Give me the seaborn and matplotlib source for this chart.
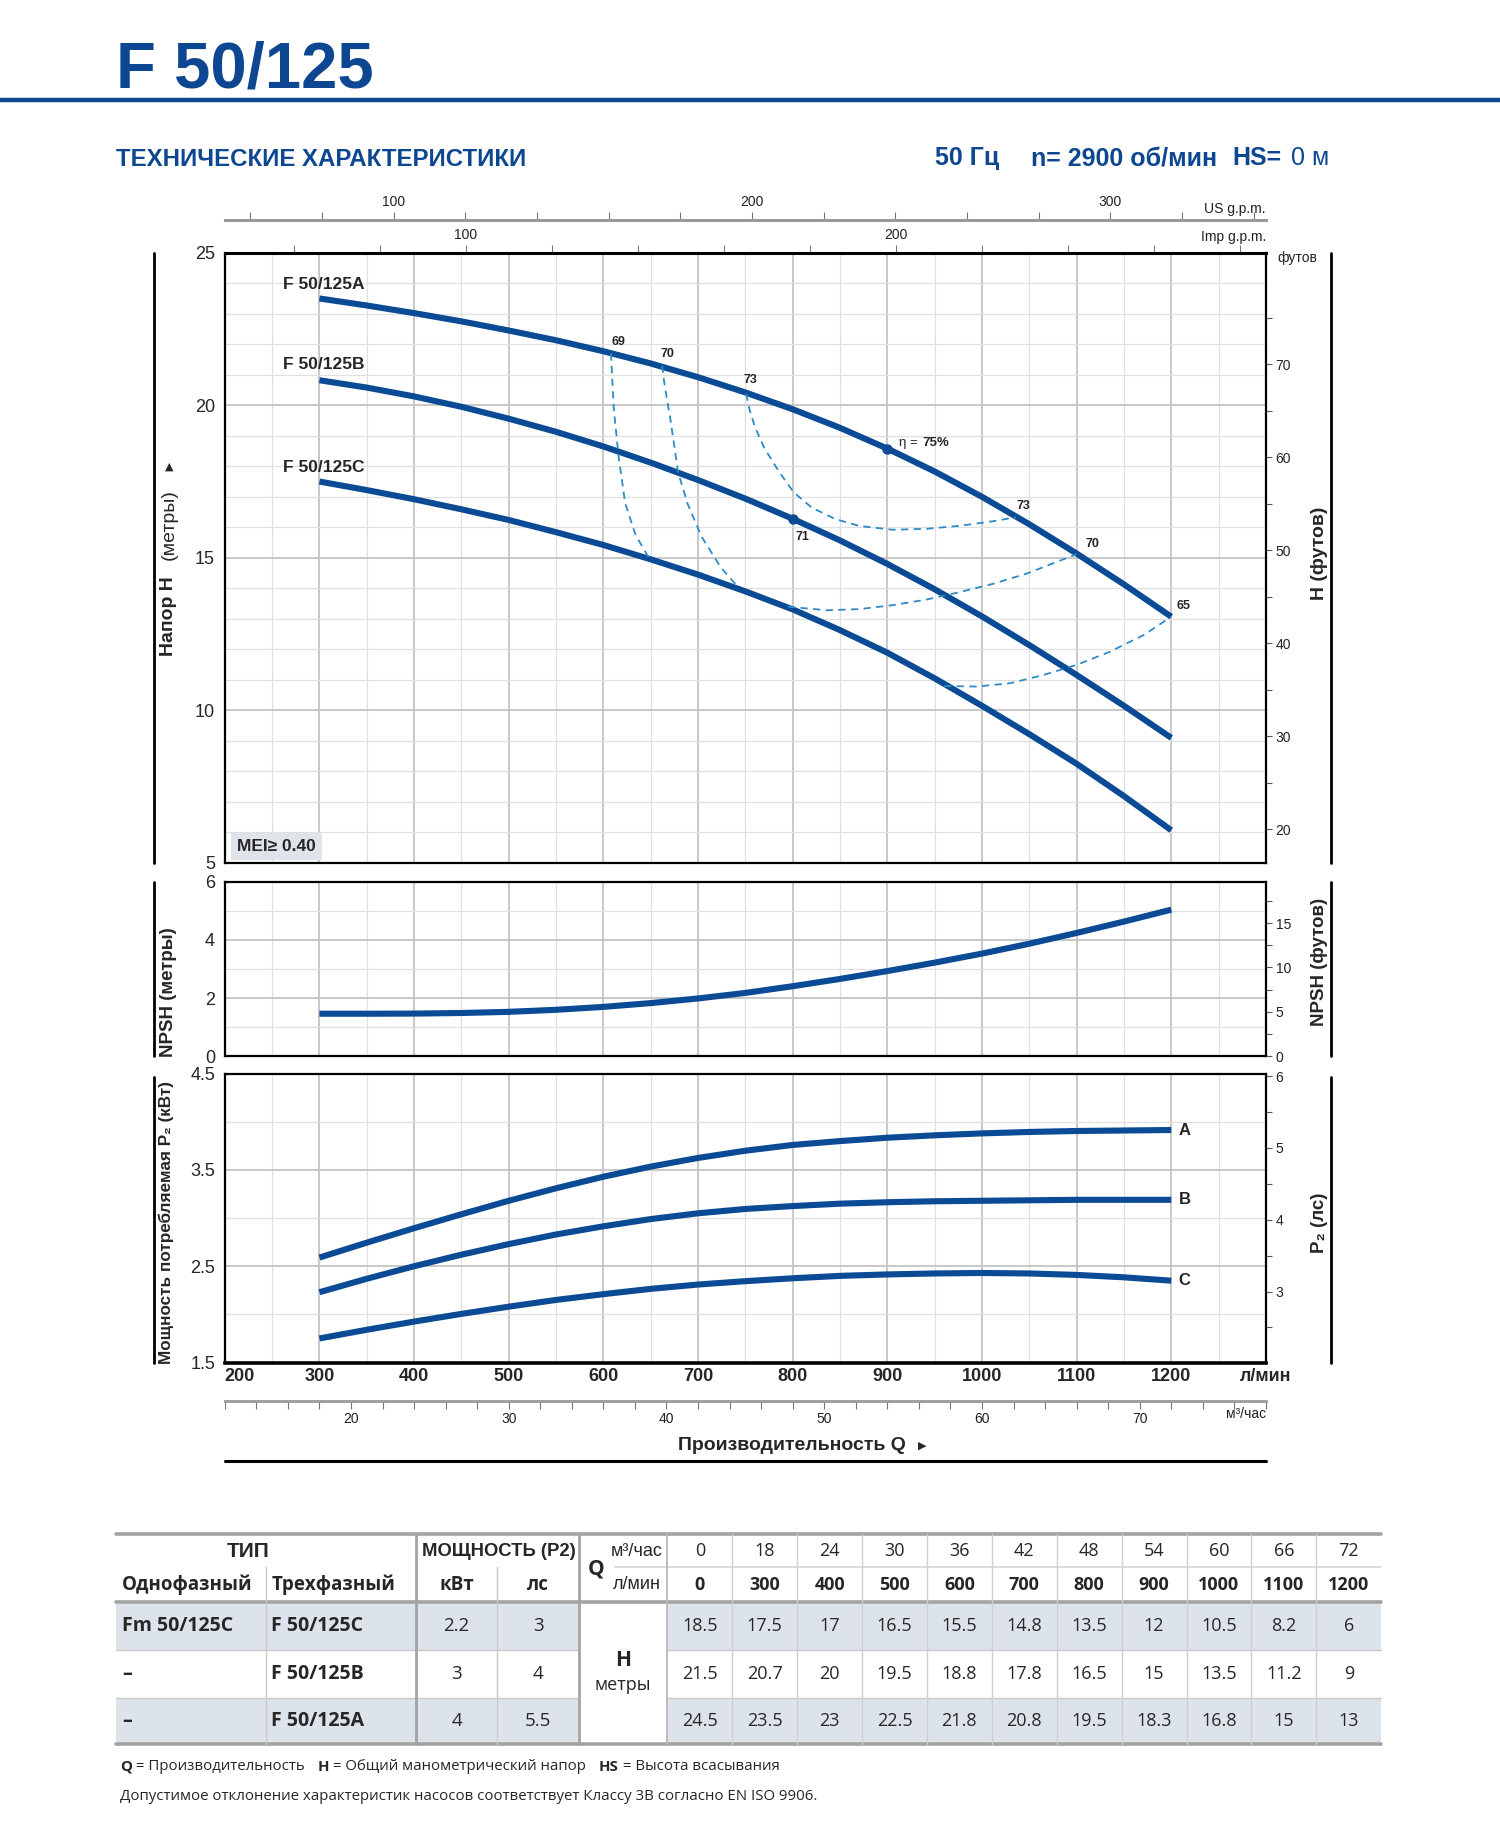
import numpy as np
import pandas as pd
import seaborn as sns
import matplotlib
matplotlib.use("Agg")
import matplotlib.pyplot as plt
from matplotlib import font_manager
from matplotlib.patches import Rectangle
from matplotlib.ticker import FixedLocator

# ---------------- data ----------------
q_lpm = [300, 350, 400, 450, 500, 550, 600, 650, 700, 750,
         800, 850, 900, 950, 1000, 1050, 1100, 1150, 1200]

head_a = [23.50, 23.27, 23.02, 22.75, 22.45, 22.13, 21.77, 21.37, 20.92, 20.42,
          19.87, 19.26, 18.58, 17.83, 17.00, 16.10, 15.14, 14.13, 13.07]
head_b = [20.82, 20.58, 20.29, 19.95, 19.56, 19.13, 18.65, 18.12, 17.55, 16.94,
          16.28, 15.57, 14.80, 13.97, 13.08, 12.14, 11.16, 10.15, 9.10]
head_c = [17.50, 17.22, 16.92, 16.59, 16.24, 15.84, 15.42, 14.95, 14.45, 13.90,
          13.31, 12.63, 11.89, 11.05, 10.15, 9.22, 8.25, 7.19, 6.07]

npsh_m = [1.46, 1.46, 1.465, 1.485, 1.525, 1.595, 1.695, 1.825, 1.985, 2.175,
          2.405, 2.655, 2.925, 3.215, 3.525, 3.865, 4.235, 4.625, 5.035]

p2_a = [2.59, 2.745, 2.895, 3.04, 3.18, 3.31, 3.43, 3.535, 3.625, 3.70,
        3.76, 3.80, 3.835, 3.86, 3.88, 3.895, 3.905, 3.91, 3.915]
p2_b = [2.23, 2.37, 2.50, 2.62, 2.73, 2.83, 2.915, 2.99, 3.05, 3.095,
        3.125, 3.15, 3.165, 3.175, 3.18, 3.185, 3.19, 3.19, 3.19]
p2_c = [1.75, 1.84, 1.925, 2.005, 2.08, 2.15, 2.21, 2.265, 2.31, 2.345,
        2.375, 2.40, 2.415, 2.425, 2.43, 2.425, 2.41, 2.385, 2.35]

# iso-efficiency lines (dashed)
eff69_q = [608, 611, 616, 623, 634, 648]
eff69_h = [21.70, 19.89, 18.34, 16.79, 15.75, 15.00]
eff70a_q = [662, 665, 671, 679, 689, 704, 724, 742]
eff70a_h = [21.30, 20.60, 19.50, 17.80, 16.77, 15.68, 14.69, 14.05]
eff73_q = [751, 754, 760, 770, 785, 801, 820, 845, 871, 906, 941, 977, 1012, 1036]
eff73_h = [20.38, 19.90, 19.30, 18.60, 17.85, 17.15, 16.65, 16.27, 16.04, 15.92,
           15.95, 16.05, 16.20, 16.33]
eff70b_q = [795, 836, 871, 906, 941, 977, 1012, 1047, 1100]
eff70b_h = [13.40, 13.28, 13.32, 13.45, 13.63, 13.88, 14.15, 14.48, 15.12]
eff65_q = [960, 994, 1030, 1065, 1100, 1135, 1171, 1200]
eff65_h = [10.80, 10.78, 10.89, 11.16, 11.49, 11.92, 12.47, 13.07]

# table
tbl_q_m3h = [0, 18, 24, 30, 36, 42, 48, 54, 60, 66, 72]
tbl_q_lpm = [0, 300, 400, 500, 600, 700, 800, 900, 1000, 1100, 1200]
tbl_single = ["Fm 50/125C", "–", "–"]
tbl_three = ["F 50/125C", "F 50/125B", "F 50/125A"]
tbl_kw = ["2.2", "3", "4"]
tbl_hp = ["3", "4", "5.5"]
tbl_head_c = [18.5, 17.5, 17, 16.5, 15.5, 14.8, 13.5, 12, 10.5, 8.2, 6]
tbl_head_b = [21.5, 20.7, 20, 19.5, 18.8, 17.8, 16.5, 15, 13.5, 11.2, 9]
tbl_head_a = [24.5, 23.5, 23, 22.5, 21.8, 20.8, 19.5, 18.3, 16.8, 15, 13]

# ---------------- style ----------------
sns.set_theme(style="white")
names = {f.name for f in font_manager.fontManager.ttflist}
narrow = "Liberation Sans Narrow" if "Liberation Sans Narrow" in names else "Liberation Sans"
NARROW = [narrow, "DejaVu Sans"]
SANS = ["Liberation Sans", "DejaVu Sans"]
BODY = ["Open Sans", "DejaVu Sans"]
plt.rcParams["font.family"] = NARROW
plt.rcParams["axes.edgecolor"] = "black"

BLUE = "#0b4a94"
TITLE = "#0d4691"
DASH = "#2e8bc6"
GRID_MAJ = "#c4c4c4"
GRID_MIN = "#e0e0e0"
SHADE = "#dde3eb"
TLINE = "#a3a3a3"

W, H = 1288.0, 1568.0
fig = plt.figure(figsize=(15, 18.26), dpi=100)


def fx(x):
    return x / W


def fy(y):
    return 1 - y / H


# overlay axes in reference pixel units for layout text and the table
ax_o = fig.add_axes([0, 0, 1, 1])
ax_o.set_xlim(0, W)
ax_o.set_ylim(H, 0)
ax_o.axis("off")
ax_o.patch.set_visible(False)

ax_h = fig.add_axes([fx(193), fy(741), fx(1087) - fx(193), fy(217) - fy(741)])
ax_n = fig.add_axes([fx(193), fy(907), fx(1087) - fx(193), fy(757) - fy(907)])
ax_p = fig.add_axes([fx(193), fy(1170), fx(1087) - fx(193), fy(922) - fy(1170)])


def base_grid(ax, ymaj, ymin):
    ax.set_xlim(200, 1300)
    ax.xaxis.set_major_locator(FixedLocator(np.arange(200, 1301, 100)))
    ax.xaxis.set_minor_locator(FixedLocator(np.arange(250, 1300, 100)))
    ax.yaxis.set_major_locator(FixedLocator(ymaj))
    ax.yaxis.set_minor_locator(FixedLocator(ymin))
    ax.grid(which="major", color=GRID_MAJ, lw=1.3)
    ax.grid(which="minor", color=GRID_MIN, lw=0.9)
    ax.set_axisbelow(True)
    ax.tick_params(which="both", length=0)
    ax.tick_params(axis="y", labelsize=13, pad=7)
    for s in ax.spines.values():
        s.set_color("black")
        s.set_linewidth(1.6)
        s.set_visible(True)


# ---------------- head curves ----------------
n = len(q_lpm)
curve_df = pd.DataFrame({
    "q": q_lpm * 3,
    "h": head_a + head_b + head_c,
    "model": ["A"] * n + ["B"] * n + ["C"] * n,
})
ax_h.set_ylim(5, 25)
base_grid(ax_h, [5, 10, 15, 20, 25], [v for v in range(6, 25) if v % 5])
ax_h.spines["top"].set_linewidth(2.2)
sns.lineplot(data=curve_df, x="q", y="h", hue="model",
             palette={"A": BLUE, "B": BLUE, "C": BLUE}, legend=False,
             estimator=None, sort=False, lw=4.4, solid_capstyle="butt",
             solid_joinstyle="round", ax=ax_h)

for qq, hh in [(eff69_q, eff69_h), (eff70a_q, eff70a_h), (eff73_q, eff73_h),
               (eff70b_q, eff70b_h), (eff65_q, eff65_h)]:
    sns.lineplot(x=qq, y=hh, color=DASH, lw=1.3, linestyle=(0, (4, 3)),
                 estimator=None, sort=False, ax=ax_h)

i800 = q_lpm.index(800)
i900 = q_lpm.index(900)
ax_h.plot([q_lpm[i800], q_lpm[i900]], [head_b[i800], head_a[i900]], "o",
          color=BLUE, ms=6.5, zorder=5)

ax_h.set_xlabel("")
ax_h.set_ylabel("")
ax_h.set_xticklabels([])

for txt, yy in [("F 50/125A", 23.97), ("F 50/125B", 21.33), ("F 50/125C", 17.96)]:
    ax_h.text(262, yy, txt, family=SANS, fontsize=12.5, fontweight="bold",
              ha="left", va="center")

eff_kw = dict(family=SANS, fontsize=9, fontweight="bold", ha="center", va="center")
ax_h.text(616, 22.06, "69", **eff_kw)
ax_h.text(668, 21.67, "70", **eff_kw)
ax_h.text(755, 20.83, "73", **eff_kw)
ax_h.text(1044, 16.70, "73", **eff_kw)
ax_h.text(1117, 15.44, "70", **eff_kw)
ax_h.text(1213, 13.41, "65", **eff_kw)
ax_h.text(810, 15.67, "71", **eff_kw)
ax_h.text(912, 18.77, "η =", family=SANS, fontsize=9.5, ha="left", va="center")
ax_h.text(937, 18.77, "75%", family=SANS, fontsize=9.5, fontweight="bold",
          ha="left", va="center")

ax_h.text(213, 5.55, "MEI≥ 0.40", family=SANS, fontsize=12.5, fontweight="bold",
          ha="left", va="center",
          bbox=dict(boxstyle="square,pad=0.35", fc="#dfe4ea", ec="none"))

# feet on the right
ax_h2 = ax_h.twinx()
ax_h2.set_ylim(5 * 3.2808, 25 * 3.2808)
ax_h2.yaxis.set_major_locator(FixedLocator(np.arange(20, 71, 10)))
ax_h2.yaxis.set_minor_locator(FixedLocator(np.arange(25, 81, 10)))
ax_h2.tick_params(which="both", direction="out", length=4, width=0.8, colors="#555555",
                  labelsize=10, labelcolor="#222222", pad=3)
for s in ax_h2.spines.values():
    s.set_visible(False)
ax_h.text(1.011, 0.992, "футов", transform=ax_h.transAxes, fontsize=10,
          ha="left", va="center", color="#222222")

# flow in gpm along the top
imp = ax_h.secondary_xaxis("top", functions=(lambda q: q / 4.546, lambda g: g * 4.546))
imp_ticks = list(range(60, 281, 20))
imp.set_xticks(imp_ticks, labels=[str(t) if t % 100 == 0 else "" for t in imp_ticks])
imp.tick_params(direction="out", length=6, width=0.8, colors="#777777",
                labelsize=10, labelcolor="#222222", pad=2)
imp.spines["top"].set_visible(False)
ax_h.text(1.0, 1.025, "Imp g.p.m.", transform=ax_h.transAxes, fontsize=10,
          ha="right", va="center", color="#222222")

us = ax_h.secondary_xaxis(1.053, functions=(lambda q: q / 3.7854, lambda g: g * 3.7854))
us_ticks = list(range(60, 341, 20))
us.set_xticks(us_ticks, labels=[str(t) if t % 100 == 0 else "" for t in us_ticks])
us.tick_params(direction="out", length=6, width=0.8, colors="#777777",
               labelsize=10, labelcolor="#222222", pad=2)
us.spines["top"].set_color("#9a9a9a")
us.spines["top"].set_linewidth(2.2)
ax_h.text(1.0, 1.071, "US g.p.m.", transform=ax_h.transAxes, fontsize=10,
          ha="right", va="center", color="#222222")

# ---------------- NPSH ----------------
ax_n.set_ylim(0, 6)
base_grid(ax_n, [0, 2, 4, 6], [1, 3, 5])
sns.lineplot(x=q_lpm, y=npsh_m, color=BLUE, lw=4.4, solid_capstyle="butt",
             solid_joinstyle="round", estimator=None, sort=False, ax=ax_n)
ax_n.set_xticklabels([])
ax_n.set_xlabel("")
ax_n.set_ylabel("")

ax_n2 = ax_n.twinx()
ax_n2.set_ylim(0, 6 * 3.2808)
ax_n2.yaxis.set_major_locator(FixedLocator([0, 5, 10, 15]))
ax_n2.yaxis.set_minor_locator(FixedLocator([2.5, 7.5, 12.5, 17.5]))
ax_n2.tick_params(which="both", direction="out", length=4, width=0.8, colors="#555555",
                  labelsize=10, labelcolor="#222222", pad=3)
for s in ax_n2.spines.values():
    s.set_visible(False)

# ---------------- power ----------------
power_df = pd.DataFrame({
    "q": q_lpm * 3,
    "p": p2_a + p2_b + p2_c,
    "model": ["A"] * n + ["B"] * n + ["C"] * n,
})
ax_p.set_ylim(1.5, 4.5)
base_grid(ax_p, [1.5, 2.5, 3.5, 4.5], [2, 3, 4])
ax_p.spines["bottom"].set_linewidth(2.6)
sns.lineplot(data=power_df, x="q", y="p", hue="model",
             palette={"A": BLUE, "B": BLUE, "C": BLUE}, legend=False,
             estimator=None, sort=False, lw=4.4, solid_capstyle="butt",
             solid_joinstyle="round", ax=ax_p)
ax_p.set_xlabel("")
ax_p.set_ylabel("")
ax_p.set_yticklabels(["1.5", "2.5", "3.5", "4.5"])
xt = list(range(200, 1301, 100))
ax_p.set_xticks(xt, labels=[str(v) for v in xt[:-1]] + ["л/мин"])
ax_p.tick_params(axis="x", labelsize=13, pad=4)
xlabs = ax_p.get_xticklabels()
for lab in xlabs:
    lab.set_fontweight("bold")
xlabs[0].set_horizontalalignment("left")
for name, vals in [("A", p2_a), ("B", p2_b), ("C", p2_c)]:
    ax_p.text(1208, vals[-1], name, fontsize=12, fontweight="bold",
              ha="left", va="center")

ax_p2 = ax_p.twinx()
ax_p2.set_ylim(1.5 / 0.7457, 4.5 / 0.7457)
ax_p2.yaxis.set_major_locator(FixedLocator([2, 3, 4, 5, 6]))
ax_p2.yaxis.set_minor_locator(FixedLocator([2.5, 3.5, 4.5, 5.5]))
ax_p2.tick_params(which="both", direction="out", length=4, width=0.8, colors="#555555",
                  labelsize=10, labelcolor="#222222", pad=3)
for s in ax_p2.spines.values():
    s.set_visible(False)

m3 = ax_p.secondary_xaxis(-0.133, functions=(lambda q: q * 0.06, lambda m: m / 0.06))
m3_ticks = list(range(12, 79, 2))
m3.set_xticks(m3_ticks, labels=[str(t) if t % 10 == 0 else "" for t in m3_ticks])
m3.tick_params(direction="out", length=6, width=0.8, colors="#777777",
               labelsize=10, labelcolor="#222222", pad=2)
m3.spines["bottom"].set_color("#9a9a9a")
m3.spines["bottom"].set_linewidth(2.0)
ax_p.text(1.0, -0.18, "м³/час", transform=ax_p.transAxes, fontsize=10,
          ha="right", va="center", color="#222222")

# ---------------- frame text and bracket lines ----------------
for y0, y1 in [(217, 741), (757, 907), (925, 1170)]:
    ax_o.plot([132, 132], [y0, y1], color="black", lw=2)
    ax_o.plot([1143, 1143], [y0, y1], color="black", lw=2)

ax_o.text(145, 563, "Напор H", family=SANS, fontsize=14, fontweight="bold",
          rotation=90, ha="center", va="bottom")
ax_o.text(145, 481, "(метры)", family=SANS, fontsize=14,
          rotation=90, ha="center", va="bottom")
ax_o.text(145, 401, "▲", family=["DejaVu Sans"], fontsize=8, ha="center", va="center")
ax_o.text(145, 852, "NPSH (метры)", family=SANS, fontsize=13.5, fontweight="bold",
          rotation=90, ha="center", va="center")
ax_o.text(143, 1050, "Мощность потребляемая P₂ (кВт)", family=SANS, fontsize=12.3,
          fontweight="bold", rotation=90, ha="center", va="center")
ax_o.text(1133, 475, "H (футов)", family=SANS, fontsize=14, fontweight="bold",
          rotation=90, ha="center", va="center")
ax_o.text(1133, 826, "NPSH (футов)", family=SANS, fontsize=13.5, fontweight="bold",
          rotation=90, ha="center", va="center")
ax_o.text(1133, 1050, "P₂ (лс)", family=SANS, fontsize=13.5, fontweight="bold",
          rotation=90, ha="center", va="center")

ax_o.text(680, 1241, "Производительность Q", family=SANS, fontsize=14,
          fontweight="bold", ha="center", va="center")
ax_o.text(792, 1241, "▶", family=["DejaVu Sans"], fontsize=8, ha="center", va="center")
ax_o.plot([193, 1087], [1255, 1255], color="black", lw=2.2)

# header
ax_o.text(100, 75, "F 50/125", fontsize=47, fontweight="bold", color=TITLE,
          ha="left", va="baseline")
ax_o.plot([0, W], [86, 86], color=TITLE, lw=3.2)
ax_o.text(100, 137, "ТЕХНИЧЕСКИЕ ХАРАКТЕРИСТИКИ", fontsize=17.3, fontweight="bold",
          color=TITLE, ha="left", va="center")
hdr = dict(fontsize=18, color=TITLE, va="center")
ax_o.text(858, 136, "50 Гц", fontweight="bold", ha="right", **hdr)
ax_o.text(1045, 136, "n= 2900 об/мин", fontweight="bold", ha="right", **hdr)
ax_o.text(1100, 136, "HS=", fontweight="bold", ha="right", **hdr)
ax_o.text(1141, 136, "0 м", ha="right", **hdr)

# ---------------- table ----------------
XL, XR = 100, 1186
Y = [1317, 1346, 1376, 1417, 1458, 1498]
dcol = [573 + i * (XR - 573) / 11 for i in range(12)]
dmid = [(a + b) / 2 for a, b in zip(dcol[:-1], dcol[1:])]

for r in (0, 2):
    ya, yb = Y[2 + r], Y[3 + r]
    ax_o.add_patch(Rectangle((XL, ya), 497 - XL, yb - ya, fc=SHADE, ec="none"))
    ax_o.add_patch(Rectangle((573, ya), XR - 573, yb - ya, fc=SHADE, ec="none"))

ax_o.plot([XL, XR], [Y[0], Y[0]], color=TLINE, lw=2.6)
ax_o.plot([XL, XR], [Y[2], Y[2]], color=TLINE, lw=2.6)
ax_o.plot([XL, XR], [Y[5], Y[5]], color=TLINE, lw=2.6)
ax_o.plot([528, XR], [Y[1], Y[1]], color="#d6d6d6", lw=1.2)
for yy in (Y[3], Y[4]):
    ax_o.plot([XL, 497], [yy, yy], color="#c9c9c9", lw=1.0)
    ax_o.plot([573, XR], [yy, yy], color="#c9c9c9", lw=1.0)
for xx in (228, 427):
    ax_o.plot([xx, xx], [Y[1], Y[5]], color="#c9c9c9", lw=1.0)
for xx in (357, 497):
    ax_o.plot([xx, xx], [Y[0], Y[5]], color=TLINE, lw=2.0)
ax_o.plot([573, 573], [Y[0], Y[5]], color="#b8b8b8", lw=1.3)
for xx in dcol[1:-1]:
    ax_o.plot([xx, xx], [Y[0], Y[5]], color="#d0d0d0", lw=1.0)

ax_o.text(213, 1332, "ТИП", fontsize=15, fontweight="bold", ha="center", va="center")
ax_o.text(428, 1332, "МОЩНОСТЬ (P2)", fontsize=13.3, fontweight="bold",
          ha="center", va="center")
ax_o.text(512, 1347, "Q", family=BODY, fontsize=15, fontweight="bold",
          ha="center", va="center")
ax_o.text(547, 1332, "м³/час", fontsize=13, ha="center", va="center")
ax_o.text(547, 1361, "л/мин", fontsize=13, ha="center", va="center")
ax_o.text(105, 1361, "Однофазный", family=BODY, fontsize=13.5, fontweight="bold",
          ha="left", va="center")
ax_o.text(233, 1361, "Трехфазный", family=BODY, fontsize=13.5, fontweight="bold",
          ha="left", va="center")
ax_o.text(392, 1361, "кВт", family=BODY, fontsize=13.5, fontweight="bold",
          ha="center", va="center")
ax_o.text(462, 1361, "лс", family=BODY, fontsize=13.5, fontweight="bold",
          ha="center", va="center")
for xm, a, b in zip(dmid, tbl_q_m3h, tbl_q_lpm):
    ax_o.text(xm, 1332, str(a), family=BODY, fontsize=13, ha="center", va="center")
    ax_o.text(xm, 1361, str(b), family=BODY, fontsize=13, fontweight="bold",
              ha="center", va="center")

rows_y = [(Y[2] + Y[3]) / 2, (Y[3] + Y[4]) / 2, (Y[4] + Y[5]) / 2]
for i, (yy, hv) in enumerate(zip(rows_y, [tbl_head_c, tbl_head_b, tbl_head_a])):
    ax_o.text(105, yy, tbl_single[i], family=BODY, fontsize=14, fontweight="bold",
              ha="left", va="center")
    ax_o.text(233, yy, tbl_three[i], family=BODY, fontsize=14, fontweight="bold",
              ha="left", va="center")
    ax_o.text(392, yy, tbl_kw[i], family=BODY, fontsize=13.5, ha="center", va="center")
    ax_o.text(462, yy, tbl_hp[i], family=BODY, fontsize=13.5, ha="center", va="center")
    for xm, v in zip(dmid, hv):
        ax_o.text(xm, yy, f"{v:g}", family=BODY, fontsize=13, ha="center", va="center")
ax_o.text(535, 1426, "H", family=BODY, fontsize=15, fontweight="bold",
          ha="center", va="center")
ax_o.text(535, 1447, "метры", family=BODY, fontsize=13, ha="center", va="center")

# footnotes
renderer = fig.canvas.get_renderer()
x = 103
for txt, bold, gap in [("Q", True, 0), (" = Производительность", False, 11),
                       ("H", True, 0), (" = Общий манометрический напор", False, 11),
                       ("HS", True, 0), (" = Высота всасывания", False, 0)]:
    t = ax_o.text(x, 1517, txt, family=BODY, fontsize=10.8,
                  fontweight="bold" if bold else "normal", ha="left", va="center")
    x += t.get_window_extent(renderer).width * W / 1500 + gap
ax_o.text(103, 1543, "Допустимое отклонение характеристик насосов соответствует "
          "Классу 3B согласно EN ISO 9906.", family=BODY, fontsize=10.8,
          ha="left", va="center")

fig.savefig("out.png", dpi=100)
